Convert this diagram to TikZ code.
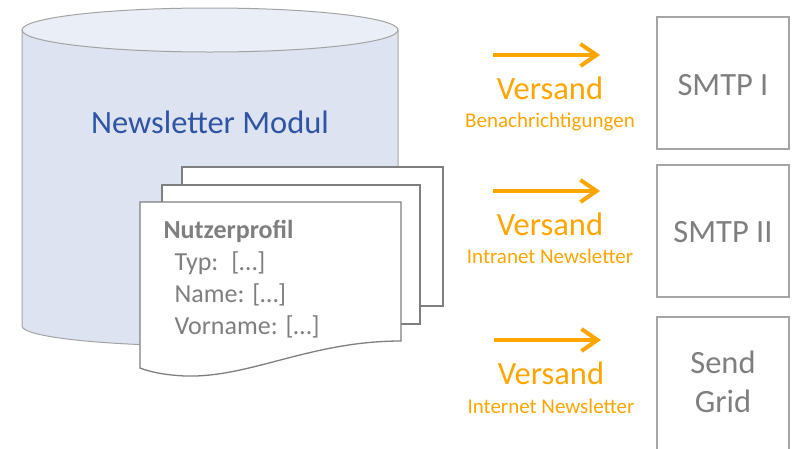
\documentclass[tikz,border=0pt]{standalone}
\usepackage{fontspec}
\setmainfont{Carlito}
\usetikzlibrary{arrows.meta}
\definecolor{cylfill}{HTML}{DDE3F1}
\definecolor{cyltop}{HTML}{EAEEF7}
\definecolor{cylline}{HTML}{A3A3A3}
\definecolor{modblue}{HTML}{2F54A3}
\definecolor{txtgray}{HTML}{7F7F7F}
\definecolor{boxline}{HTML}{A6A6A6}
\definecolor{versorange}{HTML}{FFA500}
\tikzset{
  page/.style={draw=txtgray, fill=white, line width=1.3pt},
  server/.style={draw=boxline, line width=1.5pt},
  sendarrow/.style={versorange, line width=4pt, -{Straight Barb[length=16pt,width=22pt]}},
  bigtxt/.style={font=\fontsize{32.5}{38}\selectfont},
  smalltxt/.style={font=\fontsize{21}{25}\selectfont},
  proftxt/.style={anchor=base west, text=txtgray, font=\fontsize{26}{31}\selectfont}
}
\begin{document}
\begin{tikzpicture}[x=1pt,y=-1pt]
\useasboundingbox (0,0) rectangle (793,448);
% Datenbank
\fill[cylfill] (22,30) rectangle (398,326);
\fill[cylfill] (210,326) ellipse[x radius=188, y radius=20];
\draw[cylline, line width=1pt] (22,30) -- (22,326) arc[start angle=180, end angle=0, x radius=188, y radius=20] -- (398,30);
\draw[cylline, fill=cyltop, line width=1pt] (210,30) ellipse[x radius=188, y radius=22];
\node[bigtxt, text=modblue] (modul) at (210,122) {Newsletter Modul};
% Profile
\draw[page] (182,167) rectangle (443,306);
\draw[page] (162,185) rectangle (420,324);
\draw[page] (140,202) -- (401,202) -- (401,341) .. controls (310,341) and (250,378) .. (185,376) .. controls (165,375) and (150,372) .. (140,368) -- cycle;
\node[proftxt, font=\fontsize{26}{31}\selectfont\bfseries] (profil) at (160,238) {Nutzerprofil};
\node[proftxt] (typ) at (171,270) {Typ:\enspace[…]};
\node[proftxt] (name) at (171,302) {Name: […]};
\node[proftxt] (vorname) at (171,334) {Vorname: […]};
% Versand
\coordinate (s1) at (493,55);
\coordinate (e1) at (600,55);
\coordinate (s2) at (493,191);
\coordinate (e2) at (600,191);
\coordinate (s3) at (494,340);
\coordinate (e3) at (601,340);
\draw[sendarrow] (s1) -- (e1);
\draw[sendarrow] (s2) -- (e2);
\draw[sendarrow] (s3) -- (e3);
\node[bigtxt, text=versorange, anchor=base] (v1) at (550,99) {Versand};
\node[smalltxt, text=versorange, anchor=base] (b1) at (550,127) {Benachrichtigungen};
\node[bigtxt, text=versorange, anchor=base] (v2) at (550,235) {Versand};
\node[smalltxt, text=versorange, anchor=base] (b2) at (550,263) {Intranet Newsletter};
\node[bigtxt, text=versorange, anchor=base] (v3) at (551,384) {Versand};
\node[smalltxt, text=versorange, anchor=base] (b3) at (551,413) {Internet Newsletter};
% Server
\draw[server] (657,17) rectangle (789,149);
\draw[server] (657,165) rectangle (789,297);
\draw[server] (657,470) -- (657,317) -- (789,317) -- (789,470);
\node[bigtxt, text=txtgray, anchor=base] (smtpa) at (723,95) {SMTP I};
\node[bigtxt, text=txtgray, anchor=base] (smtpb) at (723,242) {SMTP II};
\node[bigtxt, text=txtgray, anchor=base] (send) at (723,373) {Send};
\node[bigtxt, text=txtgray, anchor=base] (grid) at (723,412) {Grid};
\end{tikzpicture}
\end{document}
